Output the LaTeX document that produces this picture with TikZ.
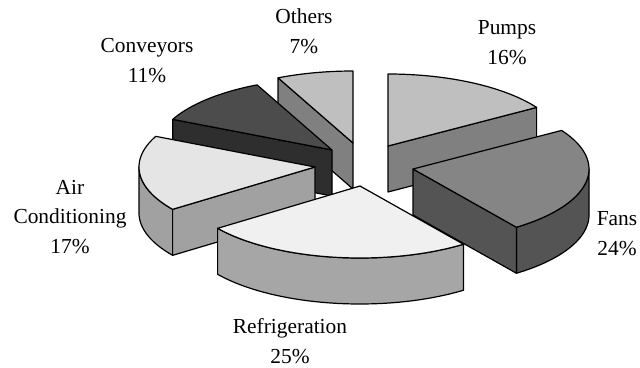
\documentclass[tikz,border=0pt]{standalone}
\usepackage{fontspec}
\setmainfont{Liberation Serif}
\definecolor{pumpstop}{gray}{0.75}
\definecolor{pumpsside}{gray}{0.50}
\definecolor{fanstop}{gray}{0.52}
\definecolor{fansside}{gray}{0.33}
\definecolor{refrigtop}{gray}{0.94}
\definecolor{refrigside}{gray}{0.65}
\definecolor{aircontop}{gray}{0.90}
\definecolor{airconside}{gray}{0.63}
\definecolor{convtop}{gray}{0.30}
\definecolor{convside}{gray}{0.18}
\definecolor{otherstop}{gray}{0.75}
\definecolor{othersside}{gray}{0.50}
\begin{document}
\begin{tikzpicture}[x=1pt, y=-1pt, line width=1.2pt, line join=round, samples=40,
    declare function={ex(\t)=176*sin(\t); ey(\t)=-72*cos(\t);},
    lbl/.style={align=center, anchor=base, inner sep=0pt,
        font=\fontsize{21.4}{29.5}\selectfont}]
    \useasboundingbox (0,0) rectangle (640,367);

    \coordinate (others)    at (353,143);
    \coordinate (conveyors) at (332,150);
    \coordinate (pumps)     at (388,146);
    \coordinate (aircon)    at (315,167);
    \coordinate (fans)      at (413,169);
    \coordinate (refrig)    at (360,186);

    % Others
    \filldraw[fill=othersside, shift={(others)}] (0,0) -- ({ex(334.8)},{ey(334.8)}) -- ({ex(334.8)},{ey(334.8)+46}) -- (0,46) -- cycle;
    \filldraw[fill=otherstop, shift={(others)}] (0,0) -- plot[domain=334.8:360] ({ex(\x)},{ey(\x)}) -- cycle;

    % Conveyors
    \filldraw[fill=convside, shift={(conveyors)}] (0,0) -- ({ex(295.2)},{ey(295.2)}) -- ({ex(295.2)},{ey(295.2)+46}) -- (0,46) -- cycle;
    \filldraw[fill=convtop, shift={(conveyors)}] (0,0) -- plot[domain=295.2:334.8] ({ex(\x)},{ey(\x)}) -- cycle;

    % Pumps
    \filldraw[fill=pumpsside, shift={(pumps)}] (0,0) -- ({ex(57.6)},{ey(57.6)}) -- ({ex(57.6)},{ey(57.6)+46}) -- (0,46) -- cycle;
    \filldraw[fill=pumpstop, shift={(pumps)}] (0,0) -- plot[domain=0:57.6] ({ex(\x)},{ey(\x)}) -- cycle;

    % Air Conditioning
    \filldraw[fill=airconside, shift={(aircon)}] plot[domain=234:270] ({ex(\x)},{ey(\x)}) -- plot[domain=270:234] ({ex(\x)},{ey(\x)+46}) -- cycle;
    \filldraw[fill=airconside, shift={(aircon)}] (0,0) -- ({ex(234)},{ey(234)}) -- ({ex(234)},{ey(234)+46}) -- (0,46) -- cycle;
    \filldraw[fill=aircontop, shift={(aircon)}] (0,0) -- plot[domain=234:295.2] ({ex(\x)},{ey(\x)}) -- cycle;

    % Fans
    \filldraw[fill=fansside, shift={(fans)}] plot[domain=90:144] ({ex(\x)},{ey(\x)}) -- plot[domain=144:90] ({ex(\x)},{ey(\x)+46}) -- cycle;
    \filldraw[fill=fansside, shift={(fans)}] (0,0) -- ({ex(144)},{ey(144)}) -- ({ex(144)},{ey(144)+46}) -- (0,46) -- cycle;
    \filldraw[fill=fanstop, shift={(fans)}] (0,0) -- plot[domain=57.6:144] ({ex(\x)},{ey(\x)}) -- cycle;

    % Refrigeration
    \filldraw[fill=refrigside, shift={(refrig)}] plot[domain=144:234] ({ex(\x)},{ey(\x)}) -- plot[domain=234:144] ({ex(\x)},{ey(\x)+46}) -- cycle;
    \filldraw[fill=refrigtop, shift={(refrig)}] (0,0) -- plot[domain=144:234] ({ex(\x)},{ey(\x)}) -- cycle;

    % labels (anchored at the last baseline)
    \node (lpumps)     at (507,64)  [lbl] {Pumps\\16\%};
    \node (lfans)      at (617,255) [lbl] {Fans\\24\%};
    \node (lrefrig)    at (290,363) [lbl] {Refrigeration\\25\%};
    \node (laircon)    at (70,253)  [lbl] {Air\\Conditioning\\17\%};
    \node (lconveyors) at (147,82)  [lbl] {Conveyors\\11\%};
    \node (lothers)    at (304,53)  [lbl] {Others\\7\%};
\end{tikzpicture}
\end{document}
